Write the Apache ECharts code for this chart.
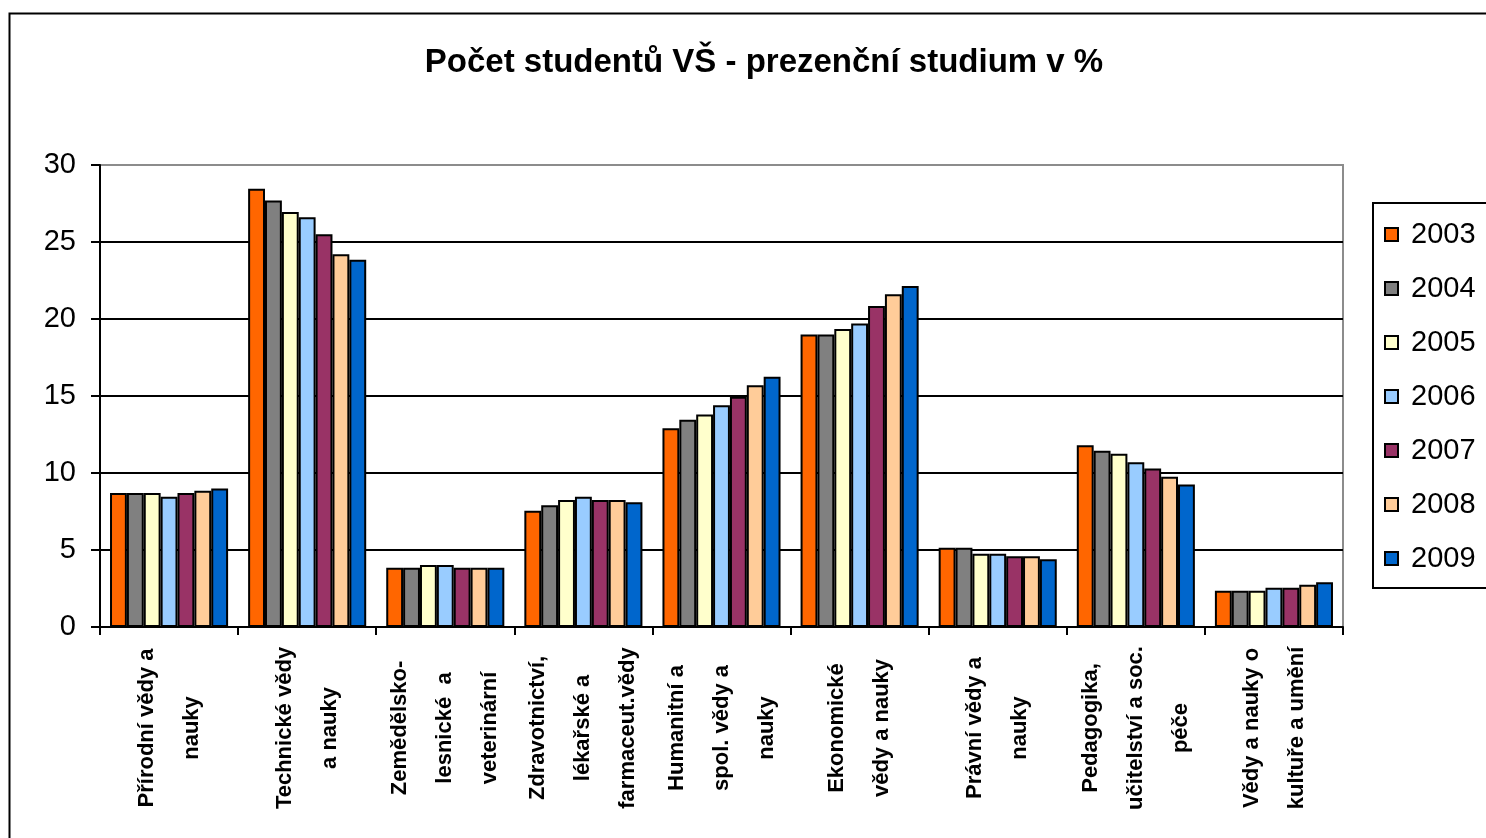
<!DOCTYPE html>
<html>
<head>
<meta charset="utf-8">
<script src="https://cdn.jsdelivr.net/npm/echarts@6/dist/echarts.min.js"></script>
<style>
html,body{margin:0;padding:0;background:#fff;}
#chart{width:1486px;height:838px;}
</style>
</head>
<body>
<div id="chart"></div>
<script>
const categories = [
  'Přírodní vědy a\nnauky',
  'Technické vědy\na nauky',
  'Zemědělsko-\nlesnické  a\nveterinární',
  'Zdravotnictví,\nlékařské a\nfarmaceut.vědy',
  'Humanitní a\nspol. vědy a\nnauky',
  'Ekonomické\nvědy a nauky',
  'Právní vědy a\nnauky',
  'Pedagogika,\nučitelství a soc.\npéče',
  'Vědy a nauky o\nkultuře a umění'
];
const years = ['2003','2004','2005','2006','2007','2008','2009'];
const colors = ['#FF6600','#808080','#FFFFCC','#99CCFF','#993366','#FFCC99','#0066CC'];
const v2003 = [8.7, 28.45, 3.85, 7.55, 12.9, 19.0, 5.15, 11.8, 2.35];
const v2004 = [8.7, 27.7, 3.85, 7.9, 13.45, 19.0, 5.15, 11.45, 2.35];
const v2005 = [8.7, 26.95, 4.03, 8.25, 13.8, 19.35, 4.75, 11.25, 2.35];
const v2006 = [8.45, 26.6, 4.03, 8.45, 14.4, 19.7, 4.75, 10.7, 2.55];
const v2007 = [8.7, 25.5, 3.85, 8.25, 14.95, 20.85, 4.6, 10.3, 2.55];
const v2008 = [8.85, 24.2, 3.85, 8.25, 15.7, 21.6, 4.6, 9.75, 2.75];
const v2009 = [9.0, 23.85, 3.85, 8.1, 16.25, 22.15, 4.4, 9.25, 2.9];
const seriesValues = [v2003, v2004, v2005, v2006, v2007, v2008, v2009];
const yTicks = [0, 5, 10, 15, 20, 25, 30];

const FONT = "'Liberation Sans', Arial, sans-serif";
const chart = echarts.init(document.getElementById('chart'), null, {renderer:'canvas'});
chart.setOption({
  animation: false,
  backgroundColor: '#ffffff',
  title: {
    text: 'Počet studentů VŠ - prezenční studium v %',
    left: 759, top: 41, textAlign: 'center',
    textStyle: {fontFamily: FONT, fontWeight: 'bold', fontSize: 33, color: '#000'}
  },
  graphic: [{
    type: 'rect', left: 7, top: 11, silent: true,
    shape: {width: 1600, height: 1000},
    style: {fill: 'none', stroke: '#000', lineWidth: 2}
  }],
  legend: {
    orient: 'vertical', left: 1373, top: 203,
    padding: [17, 80, 15, 11],
    borderColor: '#000', borderWidth: 2,
    itemWidth: 13, itemHeight: 13, itemGap: 25,
    icon: 'rect',
    textStyle: {fontFamily: FONT, fontSize: 29, color: '#000', lineHeight: 29, padding: [0,0,0,8]},
    data: years
  },
  grid: {
    left: 100, right: 143, top: 165, bottom: 211,
    show: true, borderColor: '#8c8c8c', borderWidth: 2, backgroundColor: 'transparent'
  },
  xAxis: {
    type: 'category', data: categories,
    axisLine: {lineStyle: {color: '#000', width: 2}},
    axisTick: {show: true, length: 8, lineStyle: {color: '#000', width: 2}},
    axisLabel: {
      rotate: 90, interval: 0, margin: 101,
      align: 'center', verticalAlign: 'middle',
      fontFamily: FONT, fontWeight: 'bold', fontSize: 22, lineHeight: 45, color: '#000'
    }
  },
  yAxis: {
    type: 'value', min: yTicks[0], max: yTicks[yTicks.length-1], interval: 5,
    axisLine: {show: true, lineStyle: {color: '#000', width: 2}},
    axisTick: {show: true, length: 9, lineStyle: {color: '#000', width: 2}},
    axisLabel: {fontFamily: FONT, fontSize: 29, color: '#000', margin: 24},
    splitLine: {show: true, showMaxLine: false, lineStyle: {color: '#000', width: 2}}
  },
  series: years.map((y, i) => ({
    name: y, type: 'bar', data: seriesValues[i],
    barGap: '0%', barCategoryGap: '14.5%',
    itemStyle: {color: colors[i], borderColor: '#000', borderWidth: 2}
  }))
});
</script>
</body>
</html>
